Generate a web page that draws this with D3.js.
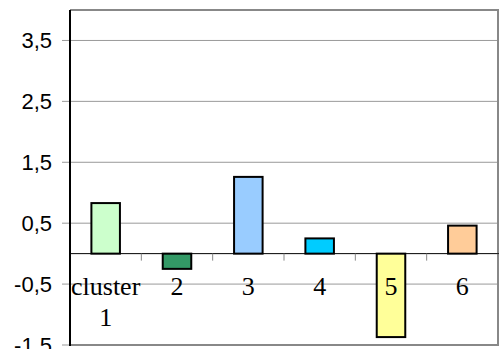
<!DOCTYPE html>
<html>
<head>
<meta charset="utf-8">
<script src="https://cdn.jsdelivr.net/npm/d3@7"></script>
<style>
  body { margin: 0; background: #fff; }
  svg { display: block; }
  .cat { font-family: "Liberation Serif", "Times New Roman", serif; }
  .ylab { font-family: "Liberation Sans", Arial, sans-serif; }
</style>
</head>
<body>
<div id="chart"></div>
<script>
const categories = ["cluster\n1", "2", "3", "4", "5", "6"];
const values = [0.83, -0.25, 1.26, 0.25, -1.37, 0.46];
const barColors = ["#ccffcc", "#339966", "#99ccff", "#00ccff", "#ffff99", "#ffcc99"];
const yTicks = [-1.5, -0.5, 0.5, 1.5, 2.5, 3.5];

const W = 500, H = 349;
const plot = {left: 70, top: 10, right: 498, bottom: 345};

const svg = d3.select("#chart").append("svg")
    .attr("width", W).attr("height", H);

const x = d3.scaleBand()
    .domain(d3.range(categories.length))
    .range([plot.left, plot.right])
    .paddingInner(0.6)
    .paddingOuter(0.3);

const y = d3.scaleLinear().domain([-1.5, 4]).range([plot.bottom, plot.top]);

const fmt = d => d3.format(".1f")(d).replace(".", ",").replace("−", "-");

// gridlines + ticks to the left
svg.append("g")
    .selectAll("line")
    .data(yTicks)
    .join("line")
    .attr("x1", plot.left - 8).attr("x2", plot.right)
    .attr("y1", d => y(d)).attr("y2", d => y(d))
    .attr("stroke", "#999").attr("stroke-width", 1);

// y labels
svg.append("g")
    .selectAll("text")
    .data(yTicks)
    .join("text")
    .attr("class", "ylab")
    .attr("x", 52).attr("y", d => y(d))
    .attr("dy", "0.36em")
    .attr("text-anchor", "end")
    .attr("font-size", 22)
    .attr("fill", "#000")
    .text(fmt);

// frame: top, right, bottom grey
svg.append("path")
    .attr("d", `M${plot.left},${plot.top}H${plot.right}V${plot.bottom}H${plot.left}`)
    .attr("fill", "none").attr("stroke", "#888").attr("stroke-width", 2);

// bars
svg.append("g")
    .selectAll("rect")
    .data(values)
    .join("rect")
    .attr("x", (d, i) => x(i))
    .attr("width", x.bandwidth())
    .attr("y", d => y(Math.max(0, d)))
    .attr("height", d => Math.abs(y(d) - y(0)))
    .attr("fill", (d, i) => barColors[i])
    .attr("stroke", "#000").attr("stroke-width", 2);

// zero line with category ticks
svg.append("line")
    .attr("x1", plot.left).attr("x2", plot.right + 1)
    .attr("y1", y(0)).attr("y2", y(0))
    .attr("stroke", "#000").attr("stroke-width", 1);

svg.append("g")
    .selectAll("line")
    .data(d3.range(1, categories.length + 1))
    .join("line")
    .attr("x1", i => plot.left + i * x.step()).attr("x2", i => plot.left + i * x.step())
    .attr("y1", y(0)).attr("y2", y(0) + 7)
    .attr("stroke", "#888").attr("stroke-width", 1);

// left axis
svg.append("line")
    .attr("x1", plot.left).attr("x2", plot.left)
    .attr("y1", plot.top).attr("y2", plot.bottom + 1)
    .attr("stroke", "#000").attr("stroke-width", 2);

// category labels
const lab = svg.append("g")
    .selectAll("text")
    .data(categories)
    .join("text")
    .attr("class", "cat")
    .attr("x", (d, i) => x(i) + x.bandwidth() / 2)
    .attr("y", 295)
    .attr("text-anchor", "middle")
    .attr("font-size", 26)
    .attr("fill", "#000");

lab.selectAll("tspan")
    .data(d => d.split("\n"))
    .join("tspan")
    .attr("x", function() { return this.parentNode.getAttribute("x"); })
    .attr("dy", (d, i) => i === 0 ? 0 : 30.5)
    .text(d => d);
</script>
</body>
</html>
